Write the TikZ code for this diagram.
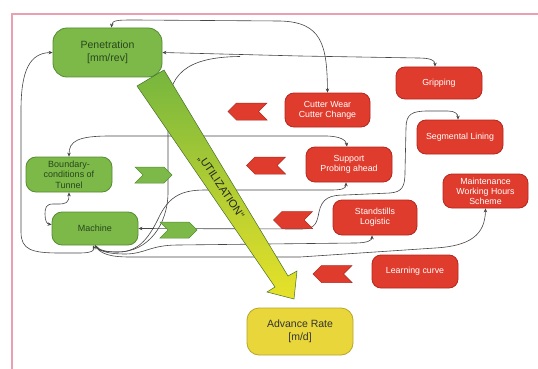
\documentclass[tikz,border=0pt]{standalone}
\usepackage{fontspec}
\setmainfont{Liberation Sans}
\usetikzlibrary{arrows.meta,shapes.symbols,calc}
\definecolor{gfill}{RGB}{125,185,72}
\definecolor{gdraw}{RGB}{85,140,50}
\definecolor{rfill}{RGB}{224,60,45}
\definecolor{rdraw}{RGB}{180,40,30}
\definecolor{yfill}{RGB}{232,214,58}
\definecolor{ydraw}{RGB}{185,165,40}
\definecolor{linec}{RGB}{70,70,70}
\definecolor{framec}{RGB}{232,160,178}
\definecolor{gtext}{RGB}{40,70,30}
\definecolor{agreen}{RGB}{118,182,62}
\definecolor{ayellow}{RGB}{232,226,40}
\pgfdeclarelayer{bg}
\pgfsetlayers{bg,main}
\tikzset{
  gbox/.style={draw=gdraw, fill=gfill, rounded corners=10pt, line width=0.8pt, text=gtext, align=center, font=\fontsize{9}{10.3}\selectfont, inner sep=0pt},
  rbox/.style={draw=rdraw, fill=rfill, rounded corners=9pt, line width=0.8pt, text=white, align=center, font=\fontsize{8.8}{10}\selectfont, inner sep=0pt},
  ybox/.style={draw=ydraw, fill=yfill, rounded corners=12pt, line width=0.8pt, text=black!80, align=center, font=\fontsize{10.5}{12.5}\selectfont, inner sep=0pt},
  rchev/.style={signal, signal to=west, signal from=east, fill=rfill, draw=rdraw, minimum width=39pt, minimum height=17pt, inner sep=0pt, line width=0.5pt},
  gchev/.style={signal, signal to=east, signal from=west, fill=gfill, draw=gdraw, minimum width=37pt, minimum height=16pt, inner sep=0pt, line width=0.5pt},
  conn/.style={draw=linec, line width=0.6pt},
  both/.style={{Stealth[length=4pt,width=3.5pt]}-{Stealth[length=4pt,width=3.5pt]}},
  fwd/.style={-{Stealth[length=4pt,width=3.5pt]}},
}
\begin{document}
\begin{tikzpicture}[x=1pt,y=-1pt]
\useasboundingbox (0,0) rectangle (538,369);

% green nodes
\node[gbox, minimum width=109pt, minimum height=49pt, rounded corners=14pt, font=\fontsize{10.5}{12.5}\selectfont] (pen) at (107.5,52.5) {Penetration\\{}[mm/rev]};
\node[gbox, minimum width=86pt, minimum height=35pt] (bound) at (69,174.5) {Boundary-\\conditions of\\Tunnel};
\node[gbox, minimum width=86pt, minimum height=33pt] (mach) at (95,228.5) {Machine};
% yellow
\node[ybox, minimum width=106pt, minimum height=47pt] (adv) at (300,331.5) {Advance Rate\\{}[m/d]};
% red nodes
\node[rbox, minimum width=86pt, minimum height=32pt] (grip) at (439,83) {Gripping};
\node[rbox, minimum width=85pt, minimum height=34pt] (cut) at (327.5,110) {Cutter Wear\\Cutter Change};
\node[rbox, minimum width=86pt, minimum height=34pt] (seg) at (460,137) {Segmental Lining};
\node[rbox, minimum width=86pt, minimum height=35pt] (sup) at (349,164.5) {Support\\Probing ahead};
\node[rbox, minimum width=85pt, minimum height=34pt] (maint) at (485.5,191) {Maintenance\\Working Hours\\Scheme};
\node[rbox, minimum width=84pt, minimum height=35pt] (stand) at (375,217.5) {Standstills\\Logistic};
\node[rbox, minimum width=86pt, minimum height=33pt] (learn) at (415,271.5) {Learning curve};

\begin{pgfonlayer}{bg}
\fill[white] (0,0) rectangle (538,369);
\draw[framec, line width=1.2pt] (538,14) -- (12,14) -- (12,369);
% Penetration top <-> Cutter
\draw[conn,both] ([xshift=4pt]pen.north) .. controls (112,20) and (118,20) .. (135,20) -- (280,21) .. controls (322,22) and (327,45) .. (cut.north);
% Penetration east <-> Gripping
\draw[conn,both] (pen.east) -- (300,56) -- (418,58) .. controls (430,58) and (435,60) .. ([xshift=-4pt]grip.north);
\coordinate (j1) at (168,137);
\coordinate (j2) at (240,56.5);
\draw[conn] (j1) -- (168,112) .. controls (168,75) and (185,57) .. (j2);
% Boundary top <-> Support top
\draw[conn,both] (bound.north) .. controls (69,141) and (78,136) .. (110,136) -- (325,136) .. controls (340,136) and (346,140) .. ([xshift=-2pt]sup.north);
% vertical to machine
\draw[conn] (j1) -- (168,192) .. controls (168,225) and (148,252) .. (118,252) .. controls (105,252) and (99,250) .. (mach.south);
% Boundary bottom <-> Machine west
\draw[conn,both] (bound.south) .. controls (69,203) and (66,204) .. (58,204) -- (53,204) .. controls (46,204) and (45,208) .. (45,214) .. controls (45,221) and (47,224) .. ([yshift=4pt]mach.west);
% Machine east <-> Segmental lining
\draw[conn,both] (mach.east) -- (302,229) .. controls (316,229) and (317,222) .. (319,212) .. controls (322,198) and (330,195) .. (345,195) -- (390,193) .. controls (402,192) and (405,187) .. (405,172) -- (406,128) .. controls (406,114) and (412,111) .. (428,111) -- (448,111) .. controls (455,111) and (458,114) .. ([xshift=-2pt]seg.north);
% Machine bottom <-> Support bottom
\draw[conn,both] (mach.south) .. controls (99,251) and (105,252) .. (118,252) .. controls (140,252) and (150,236) .. (160,215) .. controls (170,196) and (182,190) .. (205,190) -- (330,190) .. controls (341,190) and (346,189) .. ([xshift=-3pt]sup.south);
% Machine bottom -> Standstills
\draw[conn,fwd] (mach.south) .. controls (100,252) and (110,254) .. (125,254) .. controls (145,254) and (150,245) .. (178,245) -- (355,243) .. controls (368,243) and (372,240) .. ([xshift=-3pt]stand.south);
% Machine bottom -> Maintenance
\draw[conn,fwd] (mach.south) .. controls (100,254) and (110,257) .. (130,257) -- (300,257) -- (435,248) .. controls (470,246) and (485,235) .. (maint.south);
% Penetration west <-> Machine bottom
\draw[conn,both] (pen.west) .. controls (30,53) and (21,70) .. (21,110) -- (21,232) .. controls (21,250) and (32,253) .. (60,253) -- (80,253) .. controls (92,253) and (95,250) .. ([xshift=-2pt]mach.south);
\end{pgfonlayer}

% big utilization arrow
\shade[top color=agreen, bottom color=ayellow, draw=gdraw!80!black, line width=0.5pt]
  (137,86) -- (164,70) -- (288,276) -- (297,271) -- (294,299) -- (267,292) -- (275,287) -- cycle;
\node[rotate=-56.4, font=\fontsize{11}{13}\selectfont, text=black!85, inner sep=0pt] (util) at (221,187) {„UTILIZATION“};

% chevrons
\node[rchev] (rc1) at (247.5,111.5) {};
\node[rchev] (rc2) at (266,165.5) {};
\node[rchev] (rc3) at (293,220) {};
\node[rchev] (rc4) at (332.5,274) {};
\node[gchev] (gc1) at (153.5,175) {};
\node[gchev] (gc2) at (178.5,230) {};
\end{tikzpicture}
\end{document}
